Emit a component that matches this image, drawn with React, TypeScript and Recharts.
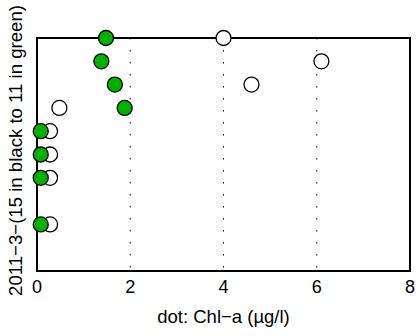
import React from 'react';
import { ScatterChart, Scatter, XAxis, YAxis, CartesianGrid, ReferenceArea } from 'recharts';

// station 2011-3-15 (black, open) and 2011-3-11 (green, filled)
const depthLevels = [10, 9, 8, 7, 6, 5, 4, 2];
const chlBlack = [4.0, 6.1, 4.6, 0.48, 0.28, 0.28, 0.28, 0.28];
const chlGreen = [1.48, 1.38, 1.67, 1.88, 0.08, 0.08, 0.08, 0.08];
const xTicks = [0, 2, 4, 6, 8];

const font = '"Liberation Sans", Arial, Helvetica, sans-serif';

const dot = (fill: string) => (props: any) => (
  <circle cx={props.cx} cy={props.cy} r={7.5} fill={fill} stroke="#000" strokeWidth={1.3} />
);

const App: React.FC = () => {
  const black = depthLevels.map((y, i) => ({ x: chlBlack[i], y }));
  const green = depthLevels.map((y, i) => ({ x: chlGreen[i], y }));

  return (
    <div style={{ position: 'absolute', left: 0, top: 0, width: 419, height: 336, background: '#fff', fontFamily: font }}>
      <ScatterChart width={419} height={336} margin={{ top: 38, right: 9, bottom: 35, left: 0 }}>
        <CartesianGrid horizontal={false} stroke="#000" strokeDasharray="1.5 10.5" />
        <XAxis
          type="number"
          dataKey="x"
          domain={[0, 8]}
          ticks={xTicks}
          height={30}
          axisLine={false}
          tickLine={false}
          tickMargin={3}
          tick={{ fill: '#000', fontSize: 18, fontFamily: font }}
          label={{ value: 'dot: Chl\u2212a (\u00b5g/l)', position: 'insideBottom', offset: -22, fill: '#000', fontSize: 18.5, fontFamily: font }}
        />
        <YAxis
          type="number"
          dataKey="y"
          domain={[0, 10]}
          width={37}
          axisLine={false}
          tickLine={false}
          tick={false}
          label={{ value: '2011\u22123\u2212(15 in black to 11 in green)', angle: -90, position: 'insideLeft', dx: 10, dy: -4, fill: '#000', fontSize: 18.6, fontFamily: font, style: { textAnchor: 'middle' } }}
        />
        <ReferenceArea x1={0} x2={8} y1={0} y2={10} fill="none" stroke="#000" strokeWidth={2} />
        <Scatter data={black} shape={dot('#fff')} isAnimationActive={false} legendType="none" />
        <Scatter data={green} shape={dot('#00b200')} isAnimationActive={false} legendType="none" />
      </ScatterChart>
    </div>
  );
};

export default App;
